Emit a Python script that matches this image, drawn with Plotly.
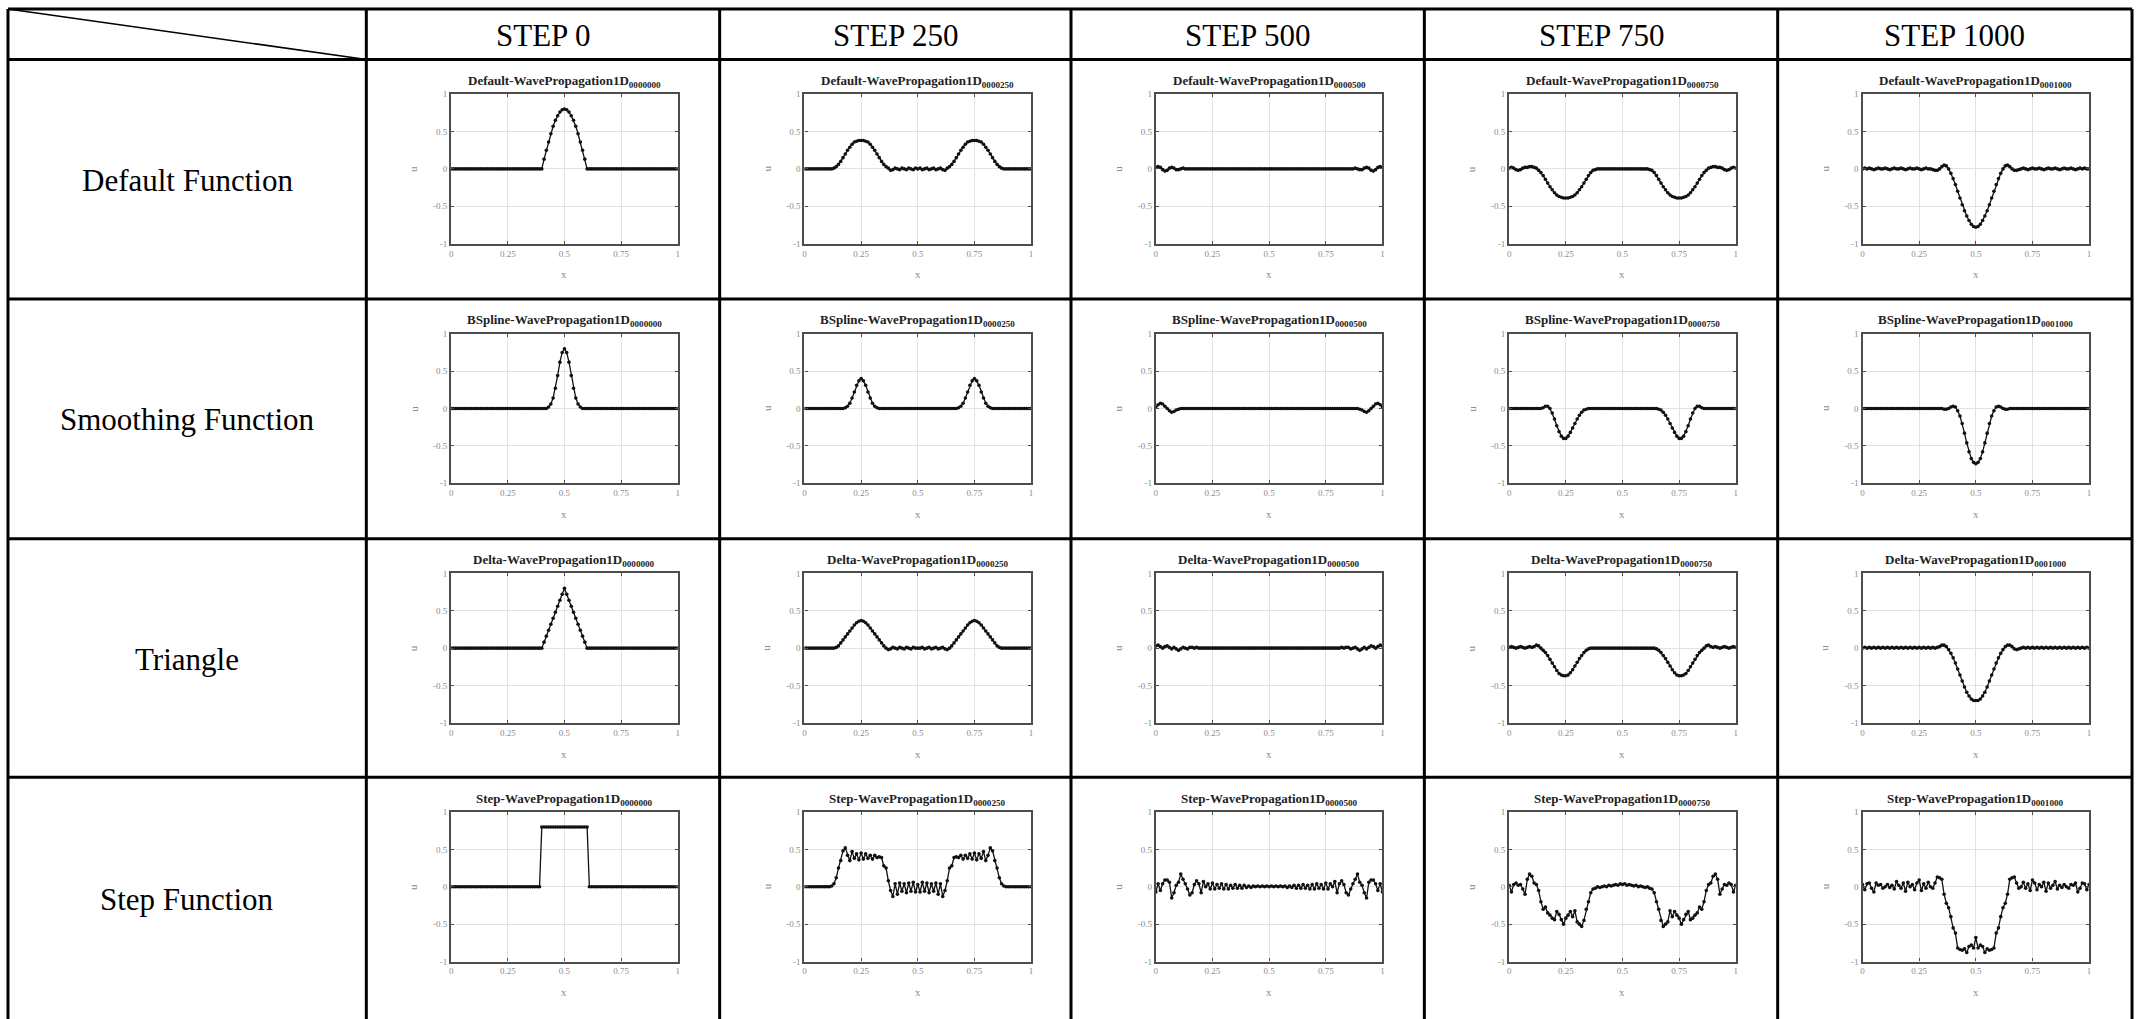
import plotly.graph_objects as go

W, H = 2143, 1019

# ---------------- data ----------------
X = [0.00, 0.01, 0.02, 0.03, 0.04, 0.05, 0.06, 0.07, 0.08, 0.09,
     0.10, 0.11, 0.12, 0.13, 0.14, 0.15, 0.16, 0.17, 0.18, 0.19,
     0.20, 0.21, 0.22, 0.23, 0.24, 0.25, 0.26, 0.27, 0.28, 0.29,
     0.30, 0.31, 0.32, 0.33, 0.34, 0.35, 0.36, 0.37, 0.38, 0.39,
     0.40, 0.41, 0.42, 0.43, 0.44, 0.45, 0.46, 0.47, 0.48, 0.49,
     0.50, 0.51, 0.52, 0.53, 0.54, 0.55, 0.56, 0.57, 0.58, 0.59,
     0.60, 0.61, 0.62, 0.63, 0.64, 0.65, 0.66, 0.67, 0.68, 0.69,
     0.70, 0.71, 0.72, 0.73, 0.74, 0.75, 0.76, 0.77, 0.78, 0.79,
     0.80, 0.81, 0.82, 0.83, 0.84, 0.85, 0.86, 0.87, 0.88, 0.89,
     0.90, 0.91, 0.92, 0.93, 0.94, 0.95, 0.96, 0.97, 0.98, 0.99,
     1.00]

STEP_LABELS = ["STEP 0", "STEP 250", "STEP 500", "STEP 750", "STEP 1000"]
STEP_CODES = ["0000000", "0000250", "0000500", "0000750", "0001000"]
ROW_LABELS = ["Default Function", "Smoothing Function", "Triangle", "Step Function"]
TITLE_PREFIXES = ["Default", "BSpline", "Delta", "Step"]
X_TICKS = [0, 0.25, 0.5, 0.75, 1]
X_TICK_TEXT = ["0", "0.25", "0.5", "0.75", "1"]
Y_TICKS = [-1, -0.5, 0, 0.5, 1]
Y_TICK_TEXT = ["-1", "-0.5", "0", "0.5", "1"]
X_LABEL = "x"
Y_LABEL = "u"

# Default function
DEFAULT_0 = [0, 0, 0, 0, 0, 0, 0, 0, 0, 0,
             0, 0, 0, 0, 0, 0, 0, 0, 0, 0,
             0, 0, 0, 0, 0, 0, 0, 0, 0, 0,
             0, 0, 0, 0, 0, 0, 0, 0, 0, 0,
             0, .13, .25, .36, .47, .57, .65, .71, .76, .79,
             .80, .79, .76, .71, .65, .57, .47, .36, .25, .13,
             0, 0, 0, 0, 0, 0, 0, 0, 0, 0,
             0, 0, 0, 0, 0, 0, 0, 0, 0, 0,
             0, 0, 0, 0, 0, 0, 0, 0, 0, 0,
             0, 0, 0, 0, 0, 0, 0, 0, 0, 0,
             0]
DEFAULT_250 = [0, 0, 0, 0, 0, 0, 0, 0, 0, 0,
               0, 0, 0, .01, .03, .06, .10, .15, .20, .25,
               .29, .33, .36, .37, .38, .38, .38, .37, .36, .33,
               .29, .25, .20, .15, .10, .06, .03, .01, -.02, -.01,
               .01, 0, -.01, .01, 0, -.01, .01, 0, -.01, .01,
               0, .01, -.01, 0, .01, -.01, 0, .01, -.01, 0,
               .01, -.01, -.02, .01, .03, .06, .10, .15, .20, .25,
               .29, .33, .36, .37, .38, .38, .38, .37, .36, .33,
               .29, .25, .20, .15, .10, .06, .03, .01, 0, 0,
               0, 0, 0, 0, 0, 0, 0, 0, 0, 0,
               0]
DEFAULT_500 = [.02, .03, .02, -.01, -.03, -.02, .01, .02, .01, -.01,
               -.01, 0, .01, 0, 0, 0, 0, 0, 0, 0,
               0, 0, 0, 0, 0, 0, 0, 0, 0, 0,
               0, 0, 0, 0, 0, 0, 0, 0, 0, 0,
               0, 0, 0, 0, 0, 0, 0, 0, 0, 0,
               0, 0, 0, 0, 0, 0, 0, 0, 0, 0,
               0, 0, 0, 0, 0, 0, 0, 0, 0, 0,
               0, 0, 0, 0, 0, 0, 0, 0, 0, 0,
               0, 0, 0, 0, 0, 0, 0, 0, .01, 0,
               -.01, -.01, .01, .02, .01, -.02, -.03, -.01, .02, .03,
               .02]
DEFAULT_750 = [.01, .02, .01, -.01, -.02, -.01, .01, .02, .02, .03,
               .03, .02, .01, -.02, -.05, -.09, -.14, -.19, -.24, -.28,
               -.32, -.35, -.37, -.38, -.39, -.39, -.39, -.38, -.37, -.35,
               -.32, -.28, -.24, -.19, -.14, -.09, -.05, -.02, -.01, 0,
               0, 0, 0, 0, 0, 0, 0, 0, 0, 0,
               0, 0, 0, 0, 0, 0, 0, 0, 0, 0,
               0, 0, -.01, -.02, -.05, -.09, -.14, -.19, -.24, -.28,
               -.32, -.35, -.37, -.38, -.39, -.39, -.39, -.38, -.37, -.35,
               -.32, -.28, -.24, -.19, -.14, -.09, -.05, -.02, .01, .02,
               .03, .03, .02, .02, .01, -.01, -.02, -.01, .01, .02,
               .01]
DEFAULT_1000 = [0, .01, 0, .01, 0, -.01, 0, .01, 0, 0,
                .01, 0, -.01, 0, .01, 0, 0, .01, 0, -.01,
                0, .01, 0, 0, .01, 0, -.01, 0, .01, 0,
                0, -.01, -.02, -.02, 0, .03, .05, .04, 0, -.06,
                -.13, -.21, -.30, -.39, -.48, -.56, -.63, -.69, -.74, -.77,
                -.78, -.77, -.74, -.69, -.63, -.56, -.48, -.39, -.30, -.21,
                -.13, -.06, 0, .04, .05, .03, 0, -.02, -.02, -.01,
                0, .01, 0, -.01, 0, .01, 0, 0, .01, 0,
                -.01, 0, .01, 0, 0, .01, 0, -.01, 0, .01,
                0, 0, .01, 0, -.01, 0, .01, 0, .01, 0,
                0]

# Smoothing (B-spline) function
BSPLINE_0 = [0, 0, 0, 0, 0, 0, 0, 0, 0, 0,
             0, 0, 0, 0, 0, 0, 0, 0, 0, 0,
             0, 0, 0, 0, 0, 0, 0, 0, 0, 0,
             0, 0, 0, 0, 0, 0, 0, 0, 0, 0,
             0, 0, 0, .02, .06, .14, .27, .44, .62, .75,
             .80, .75, .62, .44, .27, .14, .06, .02, 0, 0,
             0, 0, 0, 0, 0, 0, 0, 0, 0, 0,
             0, 0, 0, 0, 0, 0, 0, 0, 0, 0,
             0, 0, 0, 0, 0, 0, 0, 0, 0, 0,
             0, 0, 0, 0, 0, 0, 0, 0, 0, 0,
             0]
BSPLINE_250 = [0, 0, 0, 0, 0, 0, 0, 0, 0, 0,
               0, 0, 0, 0, 0, 0, 0, 0, .01, .03,
               .07, .14, .22, .31, .37, .40, .37, .31, .22, .14,
               .07, .03, .01, 0, 0, 0, 0, 0, 0, 0,
               0, 0, 0, 0, 0, 0, 0, 0, 0, 0,
               0, 0, 0, 0, 0, 0, 0, 0, 0, 0,
               0, 0, 0, 0, 0, 0, 0, 0, .01, .03,
               .07, .14, .22, .31, .37, .40, .37, .31, .22, .14,
               .07, .03, .01, 0, 0, 0, 0, 0, 0, 0,
               0, 0, 0, 0, 0, 0, 0, 0, 0, 0,
               0]
BSPLINE_500 = [.02, .05, .07, .06, .03, 0, -.03, -.05, -.04, -.02,
               -.01, 0, 0, 0, 0, 0, 0, 0, 0, 0,
               0, 0, 0, 0, 0, 0, 0, 0, 0, 0,
               0, 0, 0, 0, 0, 0, 0, 0, 0, 0,
               0, 0, 0, 0, 0, 0, 0, 0, 0, 0,
               0, 0, 0, 0, 0, 0, 0, 0, 0, 0,
               0, 0, 0, 0, 0, 0, 0, 0, 0, 0,
               0, 0, 0, 0, 0, 0, 0, 0, 0, 0,
               0, 0, 0, 0, 0, 0, 0, 0, 0, 0,
               -.01, -.02, -.04, -.05, -.03, 0, .03, .06, .07, .05,
               .02]
BSPLINE_750 = [0, 0, 0, 0, 0, 0, 0, 0, 0, 0,
               0, 0, 0, 0, 0, .01, .03, .03, 0, -.06,
               -.14, -.23, -.31, -.37, -.40, -.40, -.37, -.32, -.26, -.20,
               -.14, -.09, -.05, -.02, -.01, 0, 0, 0, 0, 0,
               0, 0, 0, 0, 0, 0, 0, 0, 0, 0,
               0, 0, 0, 0, 0, 0, 0, 0, 0, 0,
               0, 0, 0, 0, 0, 0, -.01, -.02, -.05, -.09,
               -.14, -.20, -.26, -.32, -.37, -.40, -.40, -.37, -.31, -.23,
               -.14, -.06, 0, .03, .03, .01, 0, 0, 0, 0,
               0, 0, 0, 0, 0, 0, 0, 0, 0, 0,
               0]
BSPLINE_1000 = [0, 0, 0, 0, 0, 0, 0, 0, 0, 0,
                0, 0, 0, 0, 0, 0, 0, 0, 0, 0,
                0, 0, 0, 0, 0, 0, 0, 0, 0, 0,
                0, 0, 0, 0, 0, 0, -.01, -.01, 0, .02,
                .03, .02, -.03, -.10, -.20, -.33, -.46, -.58, -.67, -.72,
                -.74, -.72, -.67, -.58, -.46, -.33, -.20, -.10, -.03, .02,
                .03, .02, 0, -.01, -.01, 0, 0, 0, 0, 0,
                0, 0, 0, 0, 0, 0, 0, 0, 0, 0,
                0, 0, 0, 0, 0, 0, 0, 0, 0, 0,
                0, 0, 0, 0, 0, 0, 0, 0, 0, 0,
                0]

# Triangle (Delta) function
DELTA_0 = [0, 0, 0, 0, 0, 0, 0, 0, 0, 0,
           0, 0, 0, 0, 0, 0, 0, 0, 0, 0,
           0, 0, 0, 0, 0, 0, 0, 0, 0, 0,
           0, 0, 0, 0, 0, 0, 0, 0, 0, 0,
           0, .08, .16, .24, .32, .40, .48, .56, .64, .72,
           .80, .72, .64, .56, .48, .40, .32, .24, .16, .08,
           0, 0, 0, 0, 0, 0, 0, 0, 0, 0,
           0, 0, 0, 0, 0, 0, 0, 0, 0, 0,
           0, 0, 0, 0, 0, 0, 0, 0, 0, 0,
           0, 0, 0, 0, 0, 0, 0, 0, 0, 0,
           0]
DELTA_250 = [0, 0, 0, 0, 0, 0, 0, 0, 0, 0,
             0, 0, 0, 0, .01, .03, .07, .11, .15, .19,
             .23, .27, .31, .34, .36, .37, .36, .34, .31, .27,
             .23, .19, .15, .11, .07, .03, 0, -.02, -.01, .01,
             0, -.01, .01, 0, -.01, .01, 0, -.01, .01, 0,
             0, 0, .01, -.01, 0, .01, -.01, 0, .01, -.01,
             0, .01, -.01, -.02, 0, .03, .07, .11, .15, .19,
             .23, .27, .31, .34, .36, .37, .36, .34, .31, .27,
             .23, .19, .15, .11, .07, .03, .01, 0, 0, 0,
             0, 0, 0, 0, 0, 0, 0, 0, 0, 0,
             0]
DELTA_500 = [.03, .04, .02, 0, .02, .03, .01, -.01, .01, -.01,
             -.03, -.01, .01, 0, -.01, .01, .01, 0, .01, 0,
             0, 0, 0, 0, 0, 0, 0, 0, 0, 0,
             0, 0, 0, 0, 0, 0, 0, 0, 0, 0,
             0, 0, 0, 0, 0, 0, 0, 0, 0, 0,
             0, 0, 0, 0, 0, 0, 0, 0, 0, 0,
             0, 0, 0, 0, 0, 0, 0, 0, 0, 0,
             0, 0, 0, 0, 0, 0, 0, 0, 0, 0,
             0, 0, .01, 0, .01, .01, -.01, 0, .01, -.01,
             -.03, -.01, .01, -.01, .01, .03, .02, 0, .02, .04,
             .03]
DELTA_750 = [.01, .02, .01, 0, .01, .02, .01, 0, .01, .02,
             .01, .02, .04, .03, 0, -.03, -.06, -.10, -.15, -.20,
             -.25, -.30, -.34, -.36, -.37, -.37, -.36, -.33, -.29, -.24,
             -.19, -.14, -.10, -.06, -.03, -.01, 0, 0, 0, 0,
             0, 0, 0, 0, 0, 0, 0, 0, 0, 0,
             0, 0, 0, 0, 0, 0, 0, 0, 0, 0,
             0, 0, 0, 0, 0, -.01, -.03, -.06, -.10, -.14,
             -.19, -.24, -.29, -.33, -.36, -.37, -.37, -.36, -.34, -.30,
             -.25, -.20, -.15, -.10, -.06, -.03, 0, .03, .04, .02,
             .01, .02, .01, 0, .01, .02, .01, 0, .01, .02,
             .01]
DELTA_1000 = [0, .01, 0, .01, 0, .01, 0, .01, 0, .01,
              0, .01, 0, .01, 0, .01, 0, .01, 0, .01,
              0, .01, 0, .01, 0, .01, 0, .01, 0, .01,
              0, .01, 0, .01, .02, .04, .04, .02, -.02, -.07,
              -.13, -.20, -.28, -.36, -.44, -.52, -.59, -.64, -.68, -.70,
              -.70, -.70, -.68, -.64, -.59, -.52, -.44, -.36, -.28, -.20,
              -.13, -.07, -.02, .02, .04, .04, .02, -.01, -.02, -.01,
              0, .01, 0, .01, 0, .01, 0, .01, 0, .01,
              0, .01, 0, .01, 0, .01, 0, .01, 0, .01,
              0, .01, 0, .01, 0, .01, 0, .01, 0, .01,
              0]

# Step function
STEP_0 = [0, 0, 0, 0, 0, 0, 0, 0, 0, 0,
          0, 0, 0, 0, 0, 0, 0, 0, 0, 0,
          0, 0, 0, 0, 0, 0, 0, 0, 0, 0,
          0, 0, 0, 0, 0, 0, 0, 0, 0, 0,
          .8, .8, .8, .8, .8, .8, .8, .8, .8, .8,
          .8, .8, .8, .8, .8, .8, .8, .8, .8, .8,
          .8, 0, 0, 0, 0, 0, 0, 0, 0, 0,
          0, 0, 0, 0, 0, 0, 0, 0, 0, 0,
          0, 0, 0, 0, 0, 0, 0, 0, 0, 0,
          0, 0, 0, 0, 0, 0, 0, 0, 0, 0,
          0]
STEP_250 = [0, 0, 0, 0, 0, 0, 0, 0, 0, 0,
            0, 0, .01, .04, .12, .25, .35, .48, .52, .42,
            .35, .47, .38, .44, .36, .45, .37, .44, .38, .42,
            .37, .42, .39, .40, .39, .28, .25, .08, -.05, -.13,
            .04, -.10, .05, -.06, .04, -.08, .05, -.06, .06, -.07,
            .03, -.07, .06, -.06, .05, -.08, .04, -.06, .05, -.10,
            .04, -.13, -.05, .08, .25, .28, .39, .40, .39, .42,
            .37, .42, .38, .44, .37, .45, .36, .44, .38, .47,
            .35, .42, .52, .48, .35, .25, .12, .04, .01, 0,
            0, 0, 0, 0, 0, 0, 0, 0, 0, 0,
            0]
STEP_500 = [-.07, .04, -.05, .04, .09, .09, .06, -.15, -.08, .02,
            .06, .17, .10, .04, -.03, -.11, -.08, .03, .08, .04,
            -.08, .07, 0, .04, -.03, .05, -.03, .03, -.02, .04,
            -.03, .03, -.03, .02, -.02, .03, -.02, .02, -.02, .02,
            -.01, .01, -.01, .01, 0, .01, 0, .01, 0, .01,
            0, .01, 0, .01, 0, .01, 0, .01, -.01, .01,
            -.01, .02, -.02, .02, -.02, .03, -.02, .02, -.03, .03,
            -.03, .04, -.02, .03, -.03, .05, -.03, .04, 0, .07,
            -.08, .04, .08, .03, -.08, -.11, -.03, .04, .10, .17,
            .06, .02, -.08, -.15, .06, .09, .09, .04, -.05, .04,
            -.07]
STEP_750 = [.02, -.07, .03, .05, .02, .03, -.03, -.10, .10, .17,
            .14, .05, .03, -.05, -.20, -.30, -.27, -.35, -.38, -.42,
            -.44, -.33, -.37, -.44, -.50, -.42, -.38, -.33, -.40, -.32,
            -.47, -.50, -.53, -.45, -.30, -.20, -.08, -.03, -.02, 0,
            -.01, 0, .01, 0, .02, .01, .02, .03, .02, .04,
            .03, .04, .02, .03, .02, .01, .02, 0, .01, 0,
            -.01, 0, -.02, -.03, -.08, -.20, -.30, -.45, -.53, -.50,
            -.47, -.32, -.40, -.33, -.38, -.42, -.50, -.44, -.37, -.33,
            -.44, -.42, -.38, -.35, -.27, -.30, -.20, -.05, .03, .05,
            .14, .17, .10, -.10, -.03, .03, .02, .05, .03, -.07,
            .02]
STEP_1000 = [.03, -.04, .04, .05, -.02, -.07, .05, .02, .03, -.02,
             0, .03, -.01, .02, -.03, .07, .02, -.02, .05, -.06,
             .06, 0, .03, -.04, .05, .09, -.05, .04, -.02, .06,
             0, -.02, .05, .13, .12, .10, -.10, -.22, -.28, -.40,
             -.55, -.62, -.82, -.84, -.85, -.83, -.88, -.80, -.78, -.82,
             -.68, -.82, -.78, -.80, -.88, -.83, -.85, -.84, -.82, -.62,
             -.55, -.40, -.28, -.22, -.10, .10, .12, .13, .05, -.02,
             0, .06, -.02, .04, -.05, .09, .05, -.04, .03, 0,
             .06, -.06, .05, -.02, .02, .07, -.03, .02, -.01, .03,
             0, -.02, .03, .02, .05, -.07, -.02, .05, .04, -.04,
             .03]

SERIES = [
    [DEFAULT_0, DEFAULT_250, DEFAULT_500, DEFAULT_750, DEFAULT_1000],
    [BSPLINE_0, BSPLINE_250, BSPLINE_500, BSPLINE_750, BSPLINE_1000],
    [DELTA_0, DELTA_250, DELTA_500, DELTA_750, DELTA_1000],
    [STEP_0, STEP_250, STEP_500, STEP_750, STEP_1000],
]
for r, row in enumerate(SERIES):
    for c, s in enumerate(row):
        assert len(s) == len(X), (r, c, len(s))

# ---------------- layout (pixels) ----------------
TABLE_LEFT, TABLE_RIGHT, TABLE_TOP = 6, 2134, 4
COL_LEFT = [365, 719, 1071, 1425, 1779]
COL_RIGHT = [719, 1071, 1425, 1779, 2134]
HEADER_BOTTOM = 55
ROW_TOP = [55, 297, 539, 780]
ROW_CENTER = [177, 419, 661, 903]
PLOT_X0, PLOT_X1 = 85, 312   # offsets inside a cell
PLOT_Y0, PLOT_Y1 = 35, 186

SERIF = "Liberation Serif"
TICK_COLOR = "#8c8c8c"


def px(x):
    return x / W


def py(y):
    return 1 - y / H


fig = go.Figure()
layout = dict(
    width=W, height=H,
    margin=dict(l=0, r=0, t=0, b=0),
    paper_bgcolor="white", plot_bgcolor="white",
    showlegend=False,
    font=dict(family=SERIF, color="black"),
)
annotations = []
shapes = []


def ann(text, x, y, size, color="black", angle=0, xanchor="center", yanchor="middle"):
    annotations.append(dict(
        text=text, x=px(x), y=py(y), xref="paper", yref="paper",
        showarrow=False, xanchor=xanchor, yanchor=yanchor, textangle=angle,
        font=dict(family=SERIF, size=size, color=color),
    ))


n = 0
for r in range(4):
    for c in range(5):
        n += 1
        suffix = "" if n == 1 else str(n)
        xa, ya = "x" + suffix, "y" + suffix
        left = COL_LEFT[c] + PLOT_X0
        right = COL_LEFT[c] + PLOT_X1
        top = ROW_TOP[r] + PLOT_Y0
        bottom = ROW_TOP[r] + PLOT_Y1
        fig.add_trace(go.Scatter(
            x=X, y=SERIES[r][c], xaxis=xa, yaxis=ya,
            mode="lines+markers",
            line=dict(color="#111111", width=1.3),
            marker=dict(color="#111111", size=3.6),
            hoverinfo="skip",
        ))
        common = dict(
            showgrid=True, gridcolor="#e2e2e2", gridwidth=1,
            zeroline=False,
            showline=True, linecolor="#4d4d4d", linewidth=2.2, mirror="ticks",
            ticks="inside", ticklen=3, tickcolor="#4d4d4d", tickwidth=1,
            tickfont=dict(family=SERIF, size=9, color=TICK_COLOR),
            fixedrange=True,
        )
        layout["xaxis" + suffix] = dict(
            common, domain=[px(left), px(right)], anchor=ya, range=[0, 1],
            tickmode="array", tickvals=X_TICKS, ticktext=X_TICK_TEXT,
        )
        layout["yaxis" + suffix] = dict(
            common, domain=[py(bottom), py(top)], anchor=xa, range=[-1, 1],
            tickmode="array", tickvals=Y_TICKS, ticktext=Y_TICK_TEXT,
        )
        cx = (left + right) / 2
        title = "<b>%s-WavePropagation1D<sub>%s</sub></b>" % (TITLE_PREFIXES[r], STEP_CODES[c])
        ann(title, cx, ROW_TOP[r] + 22, 13, color="#222222")
        ann(X_LABEL, cx, ROW_TOP[r] + 217, 11, color=TICK_COLOR)
        ann(Y_LABEL, COL_LEFT[c] + 47, (top + bottom) / 2, 11, color=TICK_COLOR, angle=-90)

# header and row labels
for c, lab in enumerate(STEP_LABELS):
    ann(lab, (COL_LEFT[c] + COL_RIGHT[c]) / 2, 31, 31)
for r, lab in enumerate(ROW_LABELS):
    ann(lab, (TABLE_LEFT + COL_LEFT[0]) / 2, ROW_CENTER[r], 31)


def line(x0, y0, x1, y1, w=3):
    shapes.append(dict(type="line", xref="paper", yref="paper",
                       x0=px(x0), y0=py(y0), x1=px(x1), y1=py(y1),
                       line=dict(color="black", width=w)))


# table grid
for y in [TABLE_TOP, HEADER_BOTTOM] + ROW_TOP[1:]:
    line(TABLE_LEFT, y, TABLE_RIGHT, y)
for x in [TABLE_LEFT] + COL_LEFT + [TABLE_RIGHT]:
    line(x, TABLE_TOP, x, H + 5)
line(TABLE_LEFT, TABLE_TOP, COL_LEFT[0], HEADER_BOTTOM, w=1.5)

layout["annotations"] = annotations
layout["shapes"] = shapes
fig.update_layout(**layout)
fig.write_html(
    "out.html",
    config={"displayModeBar": False},
    post_script="document.body.style.margin='0';document.body.style.overflow='hidden';",
)
